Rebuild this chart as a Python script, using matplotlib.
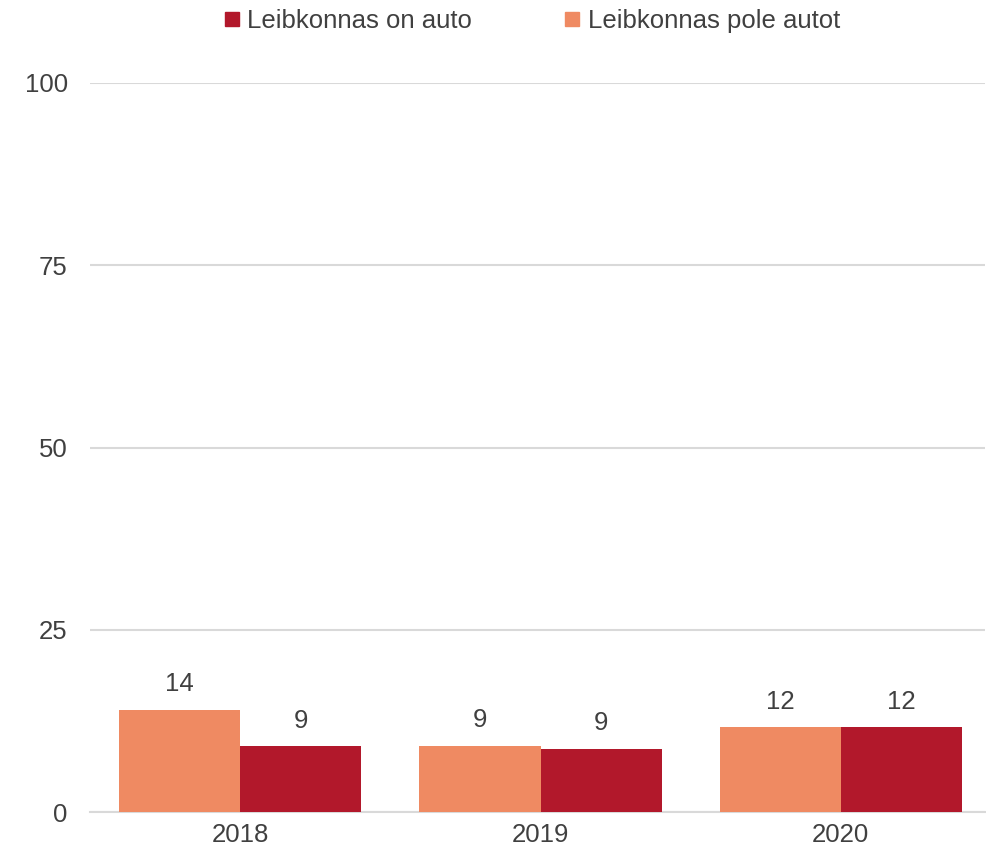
import matplotlib.pyplot as plt
from matplotlib.lines import Line2D
import numpy as np

years = ["2018", "2019", "2020"]
pole_autot = [14.0, 9.1, 11.6]
on_auto = [9.0, 8.7, 11.6]

orange = "#EF8A62"
red = "#B2182B"
text_color = "#404040"
fs = 18.5

plt.rcParams["font.family"] = ["Liberation Sans", "DejaVu Sans"]

fig = plt.figure(figsize=(9.86, 8.5), dpi=100)
ax = fig.add_axes([90 / 986, 1 - 812 / 850, 895 / 986, (812 - 83) / 850])

x = np.arange(len(years))
w = 0.403
b1 = ax.bar(x - w / 2, pole_autot, width=w, color=orange, zorder=3)
b2 = ax.bar(x + w / 2, on_auto, width=w, color=red, zorder=3)

# value labels above bars
for bars, vals in [(b1, pole_autot), (b2, on_auto)]:
    for rect, v in zip(bars, vals):
        ax.annotate(f"{round(v)}", (rect.get_x() + rect.get_width() / 2, rect.get_height()),
                    xytext=(0, 10), textcoords="offset points", ha="center", va="bottom",
                    fontsize=fs, color=text_color)

ax.set_ylim(0, 100)
ax.set_xlim(-0.5, 2.48)
ax.set_yticks([0, 25, 50, 75, 100])
ax.set_xticks(x)
ax.set_xticklabels(years)
ax.tick_params(axis="both", length=0, labelsize=fs, labelcolor=text_color)
ax.tick_params(axis="y", pad=16)
ax.tick_params(axis="x", pad=8)
ax.grid(axis="y", color="#D9D9D9", linewidth=1.5, zorder=0)
for s in ["top", "right", "left"]:
    ax.spines[s].set_visible(False)
ax.spines["bottom"].set_color("#D9D9D9")
ax.spines["bottom"].set_linewidth(1.5)

handles = [Line2D([], [], marker="s", linestyle="none", color=red, markersize=10),
           Line2D([], [], marker="s", linestyle="none", color=orange, markersize=10)]
fig.legend(handles, ["Leibkonnas on auto", "Leibkonnas pole autot"], loc="center",
           bbox_to_anchor=(532 / 986, 1 - 21 / 850), ncol=2, frameon=False,
           fontsize=fs, labelcolor=text_color, handlelength=0.6, handletextpad=0.3,
           columnspacing=3.6)

fig.savefig("out.png", dpi=100)
